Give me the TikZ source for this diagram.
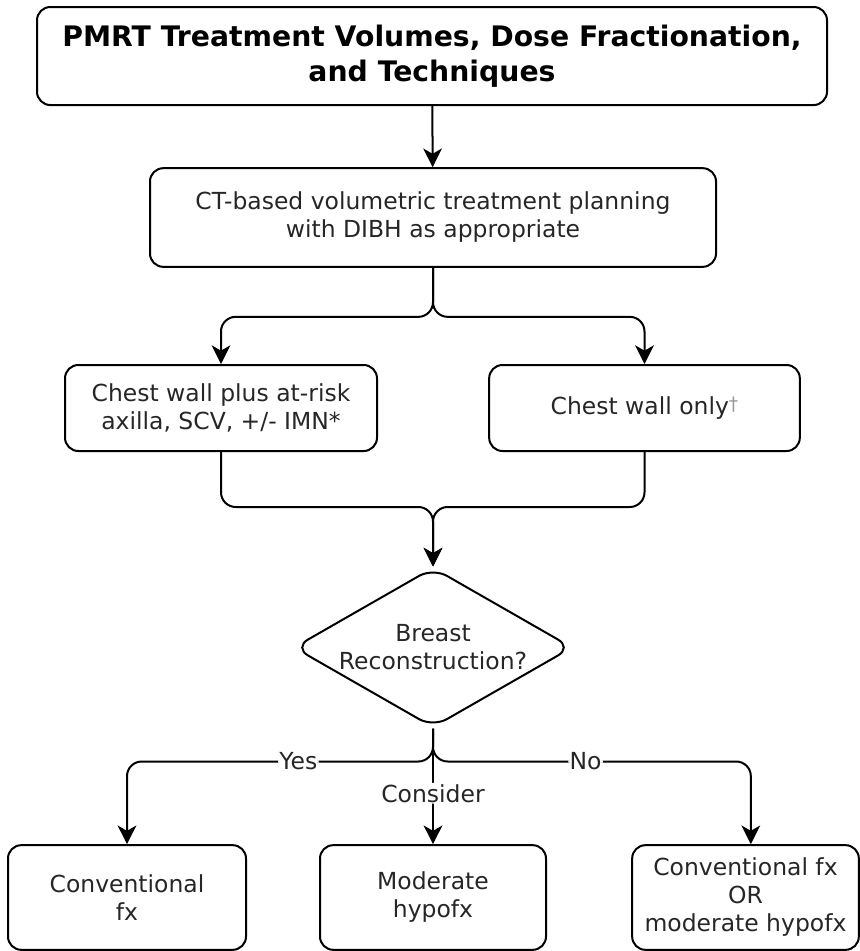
\documentclass[tikz,border=0pt]{standalone}
\usepackage{fontspec}
\setmainfont{DejaVu Sans}
\usepackage{xcolor}
\usetikzlibrary{arrows.meta,shapes.geometric,positioning}

\begin{document}
\begin{tikzpicture}[x=0.75pt,y=-0.75pt,
    box/.style={draw, line width=1.5pt, rounded corners=10pt, align=center, text=black!85, font=\fontsize{17.6}{21}\selectfont, inner sep=0pt},
    decision/.style={draw, diamond, aspect=1.75, line width=1.5pt, rounded corners=12pt, align=center, text=black!85, font=\fontsize{17.6}{21}\selectfont, inner sep=0pt, minimum width=209pt, minimum height=120pt},
    flow/.style={-{Stealth[length=14pt,width=14pt,inset=4pt]}, line width=1.5pt, rounded corners=11pt},
    tag/.style={fill=white, inner sep=1pt, text=black!85, font=\fontsize{17.6}{21}\selectfont}]
    % Frame
    \useasboundingbox (0,0) rectangle (860,951);
    % Boxes
    \node[box, minimum width=592.5pt, minimum height=73.5pt, text=black, font=\bfseries\fontsize{21.2}{26.5}\selectfont] (title) at (432,56) {PMRT Treatment Volumes, Dose Fractionation,\\and Techniques};
    \node[box, minimum width=424.5pt, minimum height=74pt] (plan) at (433,217.5) {CT-based volumetric treatment planning\\with DIBH as appropriate};
    \node[box, minimum width=234pt, minimum height=64.5pt] (wallplus) at (221,408) {Chest wall plus at-risk\\axilla, SCV, +/- IMN*};
    \node[box, minimum width=233pt, minimum height=64.5pt] (wallonly) at (644.5,408) {Chest wall only{\color{black!40}\fontsize{14}{14}\selectfont\raisebox{0.35ex}{†}}};
    \node[decision] (recon) at (433,647.5) {Breast\\Reconstruction?};
    \node[box, minimum width=178.5pt, minimum height=78.5pt] (conv) at (127,897.5) {Conventional\\fx};
    \node[box, minimum width=169.5pt, minimum height=78.5pt] (moder) at (433,897.5) {Moderate\\hypofx};
    \node[box, minimum width=170pt, minimum height=78.5pt] (either) at (745.5,897.5) {Conventional fx\\OR\\moderate hypofx};
    \coordinate (join) at (433,507);
    % Connectors
    \draw[flow] (title) -- (plan);
    \draw[flow] (plan.south) -- ++(0,49) -| (wallplus.north);
    \draw[flow] (plan.south) -- ++(0,49) -| (wallonly.north);
    \draw[flow] (wallplus.south) |- (join) -- (recon.north);
    \draw[flow] (wallonly.south) |- (join) -- (recon.north);
    \draw[flow] (recon.south) -- ++(0,33) -| node[tag, pos=0.22] {Yes} (conv.north);
    \draw[flow] (recon.south) -- ++(0,33) -| node[tag, pos=0.24] {No} ([xshift=4pt]either.north);
    \draw[flow] (recon.south) -- node[tag, pos=0.56] {Consider} (moder.north);
\end{tikzpicture}
\end{document}
